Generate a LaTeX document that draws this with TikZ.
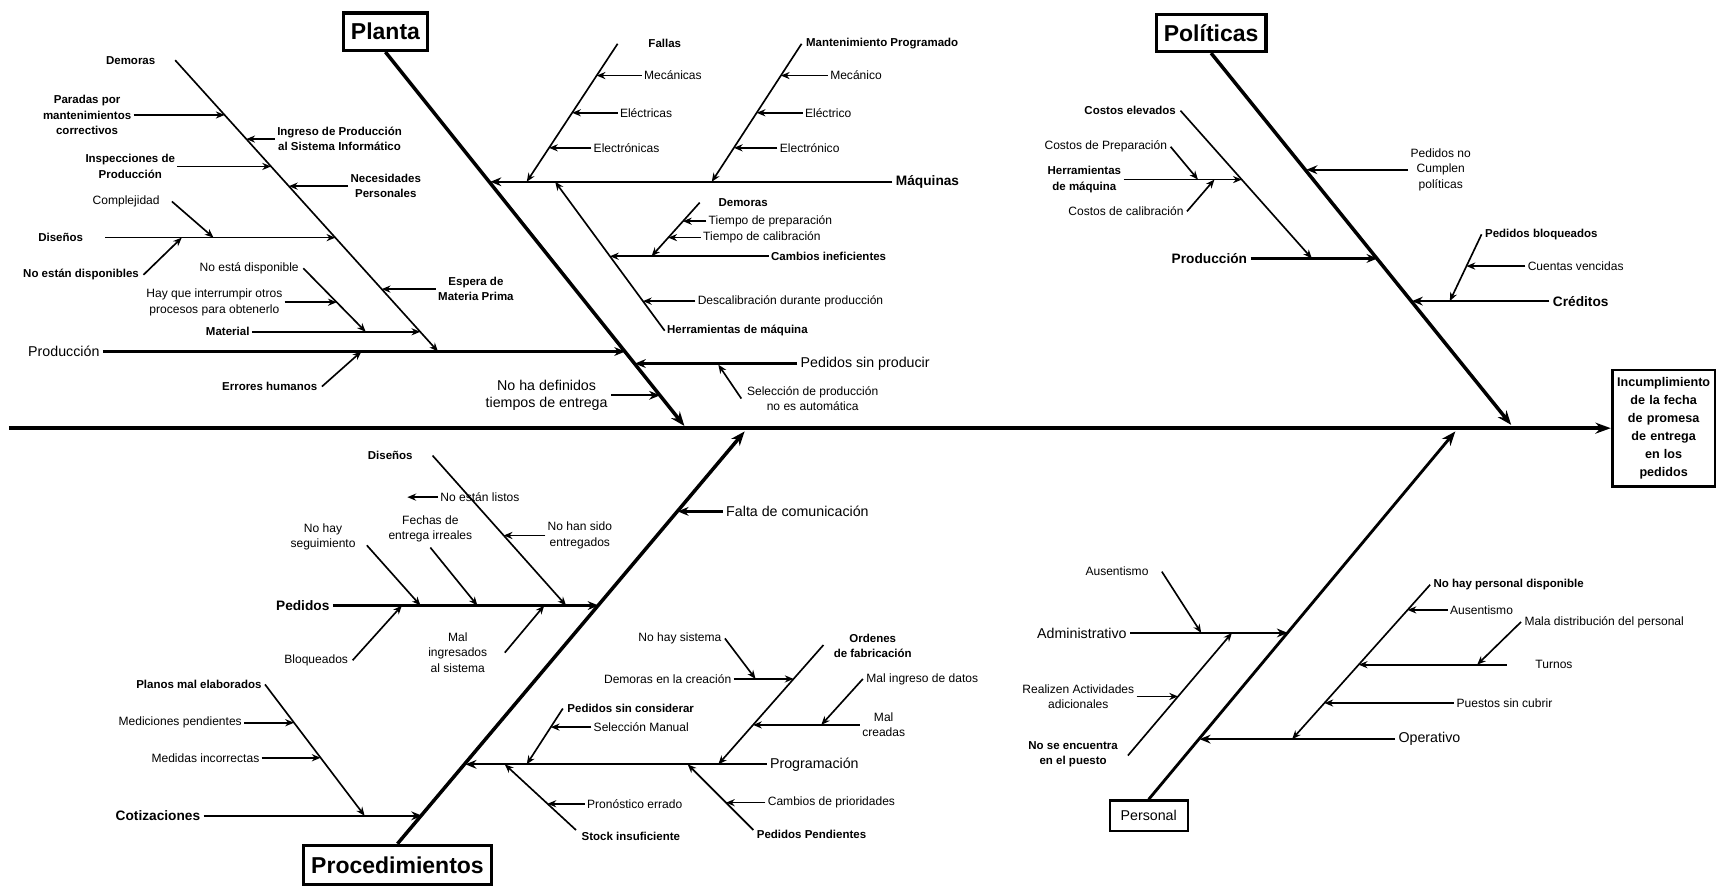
\documentclass[tikz,border=0pt]{standalone}
\usepackage{fontspec}
\setmainfont{Liberation Sans}
\usetikzlibrary{positioning, arrows.meta}

\begin{document}
\begin{tikzpicture}[x=1pt, y=-1pt,
  lbl/.style={font=\fontsize{11}{14}\selectfont, inner sep=2pt, align=center},
  lblb/.style={font=\bfseries\fontsize{10.5}{14}\selectfont, inner sep=2pt, align=center},
  cat/.style={font=\fontsize{13}{16}\selectfont, inner sep=3pt, align=center},
  catb/.style={font=\bfseries\fontsize{12.5}{15}\selectfont, inner sep=3pt},
  headbox/.style={draw, line width=3pt, font=\bfseries\fontsize{21}{24}\selectfont, inner xsep=7pt, minimum height=34pt},
  spine/.style={line width=3.5pt, -{Stealth[length=14pt, width=10pt]}},
  bone/.style={line width=3.2pt, -{Stealth[length=13pt, width=10pt]}},
  rama/.style={line width=2.1pt, -{Stealth[length=10pt, width=8pt]}},
  twig/.style={line width=1.5pt, -{Stealth[length=8pt, width=6.5pt]}}]
  \useasboundingbox (0,0) rectangle (1568,814);

  \node[draw, line width=2.5pt, font=\bfseries\fontsize{11.5}{16.5}\selectfont, text width=87pt, align=center, inner sep=3.5pt, minimum height=106pt, anchor=west] (efecto) at (1471,391) {Incumplimiento\\de la fecha\\de promesa\\de entrega\\en los\\pedidos};
  \coordinate (cola) at (8,391);
  \draw[spine] (cola) -- (efecto);

  \node[headbox] (planta) at (352,29) {Planta};
  \coordinate (plF) at (625,389);
  \coordinate (pl1) at (447.8,166);
  \coordinate (pl2) at (571,321);
  \coordinate (pl3) at (579.7,332);
  \coordinate (pl4) at (602.8,361);
  \draw[bone] (planta.south) -- (plF);

  \node[cat, anchor=east] (prodP) at (94,321) {Producción};
  \draw[rama] (prodP) -- (pl2);
  \coordinate (demA) at (160,55);
  \coordinate (demB) at (400,321);
  \coordinate (dem1) at (205.1,105);
  \coordinate (dem2) at (224.9,127);
  \coordinate (dem3) at (247.5,152);
  \coordinate (dem4) at (263.8,170);
  \coordinate (dem5) at (306.2,217);
  \coordinate (dem6) at (348.6,264);
  \coordinate (dem7) at (383.8,303);
  \draw[twig] (demA) -- (demB);
  \node[lblb, left=16pt of demA] (tDemP) {Demoras};
  \node[lblb, anchor=east] (tParadas) at (122,105) {Paradas por\\mantenimientos\\correctivos};
  \draw[twig] (tParadas) -- (dem1);
  \node[lblb, anchor=west] (tIngreso) at (251,127) {Ingreso de Producción\\al Sistema Informático};
  \draw[twig] (tIngreso) -- (dem2);
  \node[lblb, anchor=east] (tInsp) at (162,152) {Inspecciones de\\Producción};
  \draw[twig] (tInsp) -- (dem3);
  \node[lblb, anchor=west] (tNeces) at (318,170) {Necesidades\\Personales};
  \draw[twig] (tNeces) -- (dem4);
  \coordinate (disA) at (96,217);
  \node[lblb, left=18pt of disA] (tDisP) {Diseños};
  \draw[twig] (disA) -- (dem5);
  \coordinate (cxA) at (157,184);
  \coordinate (cxB) at (195,217);
  \node[lbl, left=9pt of cxA] (tComplej) {Complejidad};
  \draw[twig] (cxA) -- (cxB);
  \coordinate (neA) at (131,251);
  \coordinate (neB) at (166,217);
  \node[lblb, left=2pt of neA] (tNoEstan) {No están disponibles};
  \draw[twig] (neA) -- (neB);
  \node[lblb, anchor=west] (tEspera) at (398,264) {Espera de\\Materia Prima};
  \draw[twig] (tEspera) -- (dem6);
  \node[lblb, anchor=east] (tMaterial) at (230,303) {Material};
  \draw[twig] (tMaterial) -- (dem7);
  \coordinate (ndA) at (277,245);
  \coordinate (ndB) at (334,303);
  \coordinate (nd1) at (307.5,276);
  \draw[twig] (ndA) -- (ndB);
  \node[lbl, left=2pt of ndA] (tNoEsta) {No está disponible};
  \node[lbl, anchor=east] (tInterr) at (260,276) {Hay que interrumpir otros\\procesos para obtenerlo};
  \draw[twig] (tInterr) -- (nd1);
  \coordinate (ehA) at (294,353);
  \coordinate (ehB) at (330,321);
  \node[lblb, left=2pt of ehA] (tErrores) {Errores humanos};
  \draw[twig] (ehA) -- (ehB);

  \node[catb, anchor=west] (maq) at (815,166) {Máquinas};
  \draw[rama] (maq) -- (pl1);
  \coordinate (faA) at (564,40);
  \coordinate (faB) at (481,166);
  \coordinate (fa1) at (544.9,69);
  \coordinate (fa2) at (522.5,103);
  \coordinate (fa3) at (501.4,135);
  \draw[twig] (faA) -- (faB);
  \node[lblb, anchor=west] (tFallas) at (590,40) {Fallas};
  \node[lbl, anchor=west] (tMecs) at (586,69) {Mecánicas};
  \draw[twig] (tMecs) -- (fa1);
  \node[lbl, anchor=west] (tElecs) at (564,103) {Eléctricas};
  \draw[twig] (tElecs) -- (fa2);
  \node[lbl, anchor=west] (tElects) at (540,135) {Electrónicas};
  \draw[twig] (tElects) -- (fa3);
  \coordinate (mnA) at (732,40);
  \coordinate (mnB) at (650,166);
  \coordinate (mn1) at (713.1,69);
  \coordinate (mn2) at (691,103);
  \coordinate (mn3) at (670.2,135);
  \draw[twig] (mnA) -- (mnB);
  \node[lblb, anchor=west] (tMant) at (734,40) {Mantenimiento Programado};
  \node[lbl, anchor=west] (tMec) at (756,69) {Mecánico};
  \draw[twig] (tMec) -- (mn1);
  \node[lbl, anchor=west] (tElec) at (733,103) {Eléctrico};
  \draw[twig] (tElec) -- (mn2);
  \node[lbl, anchor=west] (tElect) at (710,135) {Electrónico};
  \draw[twig] (tElect) -- (mn3);
  \coordinate (hmA) at (607,302);
  \coordinate (hmB) at (507,166);
  \coordinate (hm1) at (557,234);
  \coordinate (hm2) at (587.1,275);
  \draw[twig] (hmA) -- (hmB);
  \node[lblb, right=0pt of hmA] (tHerrM) {Herramientas de máquina};
  \node[lblb, anchor=west] (tCambios) at (702,234) {Cambios ineficientes};
  \draw[twig] (tCambios) -- (hm1);
  \coordinate (dmA) at (639,185);
  \coordinate (dmB) at (595,234);
  \coordinate (dm1) at (623.7,202);
  \coordinate (dm2) at (610.3,217);
  \draw[twig] (dmA) -- (dmB);
  \node[lblb, anchor=west] (tDemM) at (654,185) {Demoras};
  \node[lbl, anchor=west] (tPrep) at (645,202) {Tiempo de preparación};
  \draw[twig] (tPrep) -- (dm1);
  \node[lbl, anchor=west] (tCalib) at (640,217) {Tiempo de calibración};
  \draw[twig] (tCalib) -- (dm2);
  \node[lbl, anchor=west] (tDescal) at (635,275) {Descalibración durante producción};
  \draw[twig] (tDescal) -- (hm2);
  \node[cat, anchor=west] (tPsp) at (728,332) {Pedidos sin producir};
  \draw[rama] (tPsp) -- (pl3);
  \coordinate (seA) at (677,364);
  \coordinate (seB) at (656,333);
  \draw[twig] (seA) -- (seB);
  \node[lbl, anchor=west] (tSelec) at (680,364) {Selección de producción\\no es automática};
  \node[cat, anchor=east] (tNoHa) at (558,361) {No ha definidos\\tiempos de entrega};
  \draw[rama] (tNoHa) -- (pl4);

  \node[headbox] (politicas) at (1106,30) {Políticas};
  \coordinate (poF) at (1380,388);
  \coordinate (po1) at (1193,155);
  \coordinate (po2) at (1258,236);
  \coordinate (po3) at (1289.3,275);
  \draw[bone] (politicas.south) -- (poF);
  \node[lbl, anchor=west] (tNoCumplen) at (1286,155) {Pedidos no\\Cumplen\\políticas};
  \draw[rama] (tNoCumplen) -- (po1);
  \node[catb, anchor=east] (prodPo) at (1142,236) {Producción};
  \draw[rama] (prodPo) -- (po2);
  \coordinate (ceA) at (1078,101);
  \coordinate (ceB) at (1198,236);
  \coordinate (ce1) at (1134,164);
  \draw[twig] (ceA) -- (ceB);
  \node[lblb, left=2pt of ceA] (tCostosElev) {Costos elevados};
  \node[lblb, anchor=east] (tHerrPo) at (1026,164) {Herramientas\\de máquina};
  \draw[twig] (tHerrPo) -- (ce1);
  \coordinate (cpA) at (1069,134);
  \coordinate (cpB) at (1094,164);
  \node[lbl, left=1pt of cpA] (tCostPrep) {Costos de Preparación};
  \draw[twig] (cpA) -- (cpB);
  \coordinate (ccA) at (1084,193);
  \coordinate (ccB) at (1109,164);
  \node[lbl, left=1pt of ccA] (tCostCal) {Costos de calibración};
  \draw[twig] (ccA) -- (ccB);
  \node[catb, anchor=west] (tCreditos) at (1415,275) {Créditos};
  \draw[rama] (tCreditos) -- (po3);
  \coordinate (pbA) at (1353,214);
  \coordinate (pbB) at (1324,275);
  \coordinate (pb1) at (1339.2,243);
  \draw[twig] (pbA) -- (pbB);
  \node[lblb, right=1pt of pbA] (tBloq) {Pedidos bloqueados};
  \node[lbl, anchor=west] (tCuentas) at (1393,243) {Cuentas vencidas};
  \draw[twig] (tCuentas) -- (pb1);

  \node[headbox, minimum height=36pt] (proced) at (363,790) {Procedimientos};
  \coordinate (prF) at (680,394);
  \coordinate (pr1) at (618.8,467);
  \coordinate (pr2) at (546.7,553);
  \coordinate (pr3) at (425.1,698);
  \coordinate (pr4) at (385.6,745);
  \draw[bone] (proced.north) -- (prF);
  \node[cat, anchor=west] (tFalta) at (660,467) {Falta de comunicación};
  \draw[rama] (tFalta) -- (pr1);
  \node[catb, anchor=east] (tPedidos) at (304,553) {Pedidos};
  \draw[rama] (tPedidos) -- (pr2);
  \coordinate (dsA) at (395,416);
  \coordinate (dsB) at (517,553);
  \coordinate (ds1) at (460,489);
  \draw[twig] (dsA) -- (dsB);
  \node[lblb, left=16pt of dsA] (tDisPr) {Diseños};
  \node[lbl, anchor=west] (tNoEntreg) at (498,489) {No han sido\\entregados};
  \draw[twig] (tNoEntreg) -- (ds1);
  \coordinate (nlB) at (372,454);
  \node[lbl, anchor=west] (tNoListos) at (400,454) {No están listos};
  \draw[twig] (tNoListos) -- (nlB);
  \coordinate (nsA) at (335,498);
  \coordinate (nsB) at (384,553);
  \node[lbl] (tSegui) at (295,490) {No hay\\seguimiento};
  \draw[twig] (nsA) -- (nsB);
  \coordinate (feA) at (393,500);
  \coordinate (feB) at (436,553);
  \node[lbl] (tFechas) at (393,483) {Fechas de\\entrega irreales};
  \draw[twig] (feA) -- (feB);
  \coordinate (bqA) at (322,603);
  \coordinate (bqB) at (367,553);
  \node[lbl, left=2pt of bqA] (tBloqueados) {Bloqueados};
  \draw[twig] (bqA) -- (bqB);
  \coordinate (miA) at (461,596);
  \coordinate (miB) at (497,553);
  \node[lbl] (tMalIng) at (418,596) {Mal\\ingresados\\al sistema};
  \draw[twig] (miA) -- (miB);
  \node[catb, anchor=east] (tCotiz) at (186,745) {Cotizaciones};
  \draw[rama] (tCotiz) -- (pr4);
  \coordinate (plnA) at (242,625);
  \coordinate (plnB) at (333,745);
  \coordinate (pln1) at (268.5,660);
  \coordinate (pln2) at (292.8,692);
  \draw[twig] (plnA) -- (plnB);
  \node[lblb, left=1pt of plnA] (tPlanos) {Planos mal elaborados};
  \node[lbl, anchor=east] (tMedic) at (223,660) {Mediciones pendientes};
  \draw[twig] (tMedic) -- (pln1);
  \node[lbl, anchor=east] (tMedidas) at (239,692) {Medidas incorrectas};
  \draw[twig] (tMedidas) -- (pln2);
  \node[cat, anchor=west] (tProg) at (700,698) {Programación};
  \draw[rama] (tProg) -- (pr3);
  \coordinate (orA) at (752,589);
  \coordinate (orB) at (656,698);
  \coordinate (or1) at (724.7,620);
  \coordinate (or2) at (687.7,662);
  \draw[twig] (orA) -- (orB);
  \node[lblb] (tOrdenes) at (797,590) {Ordenes\\de fabricación};
  \node[lbl, anchor=east] (tDemCre) at (670,620) {Demoras en la creación};
  \draw[twig] (tDemCre) -- (or1);
  \coordinate (nhA) at (662,583);
  \coordinate (nhB) at (690,620);
  \node[lbl, left=1pt of nhA] (tNoSist) {No hay sistema};
  \draw[twig] (nhA) -- (nhB);
  \node[lbl] (tMalCre) at (807,662) {Mal\\creadas};
  \draw[twig] (tMalCre) -- (or2);
  \coordinate (miiA) at (788,620);
  \coordinate (miiB) at (750,662);
  \node[lbl, right=1pt of miiA] (tMalDat) {Mal ingreso de datos};
  \draw[twig] (miiA) -- (miiB);
  \coordinate (pcA) at (514,647);
  \coordinate (pcB) at (481,698);
  \coordinate (pc1) at (503,664);
  \draw[twig] (pcA) -- (pcB);
  \node[lblb, right=2pt of pcA] (tSinCons) {Pedidos sin considerar};
  \node[lbl, anchor=west] (tSelMan) at (540,664) {Selección Manual};
  \draw[twig] (tSelMan) -- (pc1);
  \coordinate (stA) at (526,758);
  \coordinate (stB) at (461,698);
  \coordinate (st1) at (500,734);
  \draw[twig] (stA) -- (stB);
  \node[lblb, anchor=west] (tStock) at (529,764) {Stock insuficiente};
  \node[lbl, anchor=west] (tPronos) at (534,734) {Pronóstico errado};
  \draw[twig] (tPronos) -- (st1);
  \coordinate (ppA) at (688,758);
  \coordinate (ppB) at (628,698);
  \coordinate (pp1) at (663,733);
  \draw[twig] (ppA) -- (ppB);
  \node[lblb, anchor=west] (tPend) at (689,762) {Pedidos Pendientes};
  \node[lbl, anchor=west] (tPrior) at (699,733) {Cambios de prioridades};
  \draw[twig] (tPrior) -- (pp1);

  \node[headbox, line width=2pt, font=\fontsize{13}{15}\selectfont, inner xsep=10pt, minimum height=28pt] (personal) at (1049,745) {Personal};
  \coordinate (peF) at (1329,394);
  \coordinate (pe1) at (1176.1,578);
  \coordinate (pe2) at (1095.5,675);
  \draw[bone, line width=2.6pt] (personal.north) -- (peF);
  \node[cat, anchor=east] (tAdmin) at (1032,578) {Administrativo};
  \draw[rama] (tAdmin) -- (pe1);
  \coordinate (auA) at (1061,522);
  \coordinate (auB) at (1097,578);
  \node[lbl, left=10pt of auA] (tAusA) {Ausentismo};
  \draw[twig] (auA) -- (auB);
  \coordinate (naA) at (1030,690);
  \coordinate (naB) at (1125,578);
  \coordinate (na1) at (1075.8,636);
  \draw[twig] (naA) -- (naB);
  \node[lblb] (tNoEnc) at (980,689) {No se encuentra\\en el puesto};
  \node[lbl, anchor=east] (tRealiz) at (1038,636) {Realizen Actividades\\adicionales};
  \draw[twig] (tRealiz) -- (na1);
  \node[cat, anchor=west] (tOper) at (1274,675) {Operativo};
  \draw[rama] (tOper) -- (pe2);
  \coordinate (opA) at (1306,534);
  \coordinate (opB) at (1180,675);
  \coordinate (op1) at (1285.4,557);
  \coordinate (op2) at (1240.8,607);
  \coordinate (op3) at (1209.5,642);
  \draw[twig] (opA) -- (opB);
  \node[lblb, right=1pt of opA] (tNoPers) {No hay personal disponible};
  \node[lbl, anchor=west] (tAusO) at (1322,557) {Ausentismo};
  \draw[twig] (tAusO) -- (op1);
  \coordinate (tuA) at (1376,607);
  \node[lbl, right=24pt of tuA] (tTurnos) {Turnos};
  \draw[twig] (tuA) -- (op2);
  \coordinate (mdA) at (1389,568);
  \coordinate (mdB) at (1349,607);
  \draw[twig] (mdA) -- (mdB);
  \node[lbl, right=1pt of mdA] (tMala) {Mala distribución del personal};
  \node[lbl, anchor=west] (tPuestos) at (1328,642) {Puestos sin cubrir};
  \draw[twig] (tPuestos) -- (op3);
\end{tikzpicture}
\end{document}
